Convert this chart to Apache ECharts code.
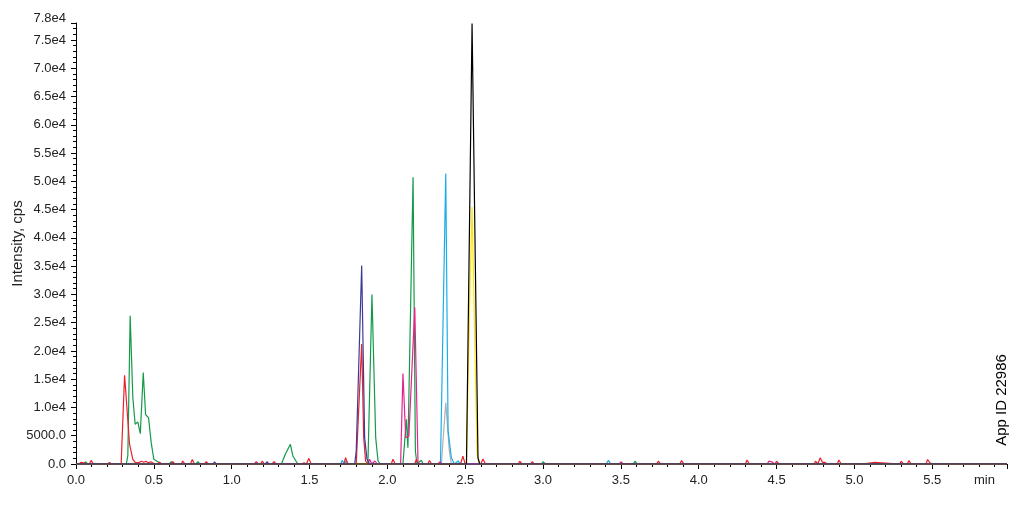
<!DOCTYPE html>
<html>
<head>
<meta charset="utf-8">
<script src="https://cdn.jsdelivr.net/npm/echarts@6/dist/echarts.min.js"></script>
<style>
html,body{margin:0;padding:0;background:#fff;}
#chart{width:1025px;height:515px;}
</style>
</head>
<body>
<div id="chart"></div>
<script>
// time (min), intensity (cps) pairs
const redTrace = [[0,0],[0.02,0],[0.033,300],[0.045,0],[0.085,0],[0.098,650],[0.11,0],[0.2,0],[0.215,250],[0.23,0],
 [0.29,0],[0.312,15700],[0.344,3500],[0.365,800],[0.38,300],[0.39,600],[0.40,200],[0.42,500],[0.435,300],[0.45,500],[0.465,200],[0.48,400],[0.50,100],[0.52,0],[0.537,300],[0.55,0],
 [0.61,0],[0.622,400],[0.635,0],[0.675,0],[0.686,500],[0.70,0],[0.735,0],[0.747,800],[0.76,0],[0.825,0],[0.837,400],[0.85,0],
 [1.145,0],[1.158,400],[1.17,0],[1.185,0],[1.197,500],[1.21,0],[1.26,0],[1.272,400],[1.285,0],[1.45,0],[1.465,200],[1.48,0],[1.496,1000],[1.51,0],
 [1.72,0],[1.732,1100],[1.745,0],[1.80,0],[1.835,21200],[1.848,4660],[1.86,530],[1.875,0],[2.025,0],[2.036,830],[2.05,0],
 [2.175,0],[2.186,800],[2.2,0],[2.26,0],[2.27,600],[2.285,0],[2.47,0],[2.485,1400],[2.5,0],[2.6,0],[2.614,900],[2.63,0],
 [2.7,0],[2.71,300],[2.72,0],[2.84,0],[2.85,500],[2.865,0],[2.92,0],[2.93,400],[2.945,0],[3.08,0],[3.09,250],[3.1,0],[3.2,0],[3.21,300],[3.22,0],
 [3.6,0],[3.61,300],[3.62,0],[3.73,0],[3.74,500],[3.755,0],[3.8,0],[3.81,300],[3.82,0],
 [3.878,0],[3.89,600],[3.905,0],[4.08,0],[4.09,250],[4.1,0],[4.3,0],[4.31,700],[4.325,0],[4.49,0],[4.5,500],[4.515,0],[4.6,0],[4.61,250],[4.62,0],[4.74,0],[4.75,500],[4.765,0],
 [4.78,1100],[4.795,300],[4.81,300],[4.825,0],[4.89,0],[4.90,700],[4.915,0],[5.05,0],[5.06,300],[5.13,300],[5.14,0],
 [5.29,0],[5.30,500],[5.315,0],[5.34,0],[5.35,600],[5.365,0],[5.46,0],[5.47,800],[5.485,200],[5.5,0],[5.68,0],[5.69,250],[5.7,0],[5.8,0],[5.81,300],[5.825,0],[5.98,0]];

const greenTrace = [[0,0],[0.05,0],[0.061,400],[0.075,0],[0.323,0],[0.333,1500],[0.348,26200],[0.365,11750],[0.38,7040],[0.397,7450],
 [0.413,5370],[0.432,16190],[0.447,8740],[0.466,8150],[0.483,3780],[0.50,830],[0.526,410],[0.537,500],[0.55,0],[0.6,0],[0.612,400],[0.625,0],
 [0.77,0],[0.783,400],[0.795,0],[1.319,0],[1.346,1830],[1.377,3490],[1.393,1420],[1.425,0],[1.875,0],[1.901,29960],[1.925,4660],[1.94,530],[1.955,0],
 [2.10,0],[2.122,7920],[2.132,2890],[2.165,50700],[2.18,2300],[2.19,0],[2.218,650],[2.23,0],[2.99,0],[3.0,400],[3.015,0],
 [3.58,0],[3.59,500],[3.605,0],[4.19,0],[4.2,300],[4.215,0],[4.9,0],[4.91,250],[4.92,0],[5.54,0],[5.55,300],[5.565,0],[5.64,0],[5.65,300],[5.665,0],[5.98,0]];

const navyTrace = [[0,0],[0.88,0],[0.89,400],[0.9,0],[1.215,0],[1.226,400],[1.24,0],[1.79,0],[1.80,2300],[1.835,35100],[1.854,4660],[1.869,890],[1.885,0],
 [3.35,0],[3.36,200],[3.37,0],[5.91,0],[5.92,300],[5.935,0],[5.98,0]];

const magentaTrace = [[0,0],[0.15,0],[0.16,300],[0.17,0],[1.555,0],[1.565,300],[1.58,0],[1.875,0],[1.886,830],[1.9,0],[1.91,0],[1.92,530],[1.935,0],
 [2.085,0],[2.10,16000],[2.118,4660],[2.138,4900],[2.176,27700],[2.197,0],[2.325,0],[2.336,400],[2.35,0],[3.49,0],[3.50,400],[3.515,0],
 [3.65,0],[3.66,300],[3.67,0],[4.44,0],[4.45,500],[4.46,200],[4.47,400],[4.485,0],[5.98,0]];

const cyanTrace = [[0,0],[0.12,0],[0.13,300],[0.145,0],[1.70,0],[1.71,650],[1.722,0],[1.728,0],[1.737,500],[1.75,0],[2.341,0],[2.375,51400],
 [2.39,5850],[2.411,1100],[2.43,0],[2.44,0],[2.454,530],[2.47,0],[2.95,0],[2.96,250],[2.97,0],[3.405,0],[3.42,650],[3.435,0],[5.98,0]];

const greyTrace = [[0,0],[2.347,0],[2.375,10870],[2.398,2300],[2.411,0],[3.3,0],[3.31,200],[3.32,0],[5.18,0],[5.19,250],[5.2,0],[5.98,0]];

const yellowTrace = [[0,0],[0.285,0],[0.295,200],[0.305,0],[2.508,0],[2.529,28900],[2.544,45440],[2.576,1720],[2.593,0],[2.63,0],[2.64,300],[2.655,0],
 [2.9,0],[2.91,250],[2.92,0],[3.14,0],[3.15,250],[3.16,0],[5.85,0],[5.86,300],[5.875,0],[5.98,0]];

const blackTrace = [[0,0],[0.46,0],[0.47,300],[0.48,0],[2.508,0],[2.544,77900],[2.582,1100],[2.593,0],[2.66,0],[2.67,250],[2.68,0],[2.75,0],[2.76,300],[2.77,0],
 [2.8,0],[2.81,250],[2.82,0],[3.0,0],[3.01,250],[3.02,0],[3.12,0],[3.13,200],[3.14,0],[4.18,0],[4.19,200],[4.2,0],[5.98,0]];

const traceList = [
  {name:'grey', data:greyTrace, color:'#b0b0b0'},
  {name:'cyan', data:cyanTrace, color:'#19aee8'},
  {name:'green', data:greenTrace, color:'#139a48'},
  {name:'red', data:redTrace, color:'#e8212b'},
  {name:'magenta', data:magentaTrace, color:'#e4238c'},
  {name:'yellow', data:yellowTrace, color:'#ffe600'},
  {name:'black', data:blackTrace, color:'#000000'},
  {name:'navy', data:navyTrace, color:'#3b3b96'}
];

const chart = echarts.init(document.getElementById('chart'), null, {renderer:'canvas'});
const font = 'Liberation Sans, Arial, sans-serif';
chart.setOption({
  animation:false,
  backgroundColor:'#fff',
  grid:{left:76, right:18, top:23, bottom:51, containLabel:false, outerBoundsMode:'none'},
  xAxis:{
    type:'value', min:0, max:5.98, interval:0.5,
    axisLine:{lineStyle:{color:'#000', width:1}},
    axisTick:{show:true, length:5, lineStyle:{color:'#000'}},
    minorTick:{show:true, splitNumber:5, length:3, lineStyle:{color:'#000'}},
    splitLine:{show:false},
    axisLabel:{color:'#222', fontSize:13, fontFamily:font, margin:10, showMaxLabel:false,
      formatter:v => (Math.abs(v/0.5 - Math.round(v/0.5))<1e-6 ? v.toFixed(1) : '')}
  },
  yAxis:{
    type:'value', min:0, max:78000, interval:5000,
    name:'Intensity, cps', nameLocation:'middle', nameGap:51, nameMoveOverlap:false,
    nameTextStyle:{color:'#222', fontSize:15, fontFamily:font},
    axisLine:{show:true, lineStyle:{color:'#000', width:1}},
    axisTick:{show:true, length:5, lineStyle:{color:'#000'}},
    minorTick:{show:true, splitNumber:5, length:3, lineStyle:{color:'#000'}},
    splitLine:{show:false},
    axisLabel:{color:'#222', fontSize:13, fontFamily:font, margin:10,
      formatter:v => {
        if (v === 0) return '0.0';
        if (v < 10000) return v.toFixed(1);
        const s = (v/10000).toFixed(1) + 'e4';
        return v === 78000 ? '{t|' + s + '}' : s;
      },
      rich:{t:{color:'#222', fontSize:13, fontFamily:font, padding:[0,0,9,0]}}
    }
  },
  graphic:[
    {type:'text', left:974, top:474, style:{text:'min', font:'13px ' + font, fill:'#222'}},
    {type:'text', x:1002, y:400, rotation:Math.PI/2,
     style:{text:'App ID 22986', font:'15px ' + font, fill:'#000', align:'center', verticalAlign:'middle'}}
  ],
  series: traceList.map(t => ({
    type:'line', name:t.name, data:t.data, showSymbol:false, symbol:'none',
    lineStyle:{color:t.color, width:1.2}, itemStyle:{color:t.color}, clip:true
  }))
});
</script>
</body>
</html>
